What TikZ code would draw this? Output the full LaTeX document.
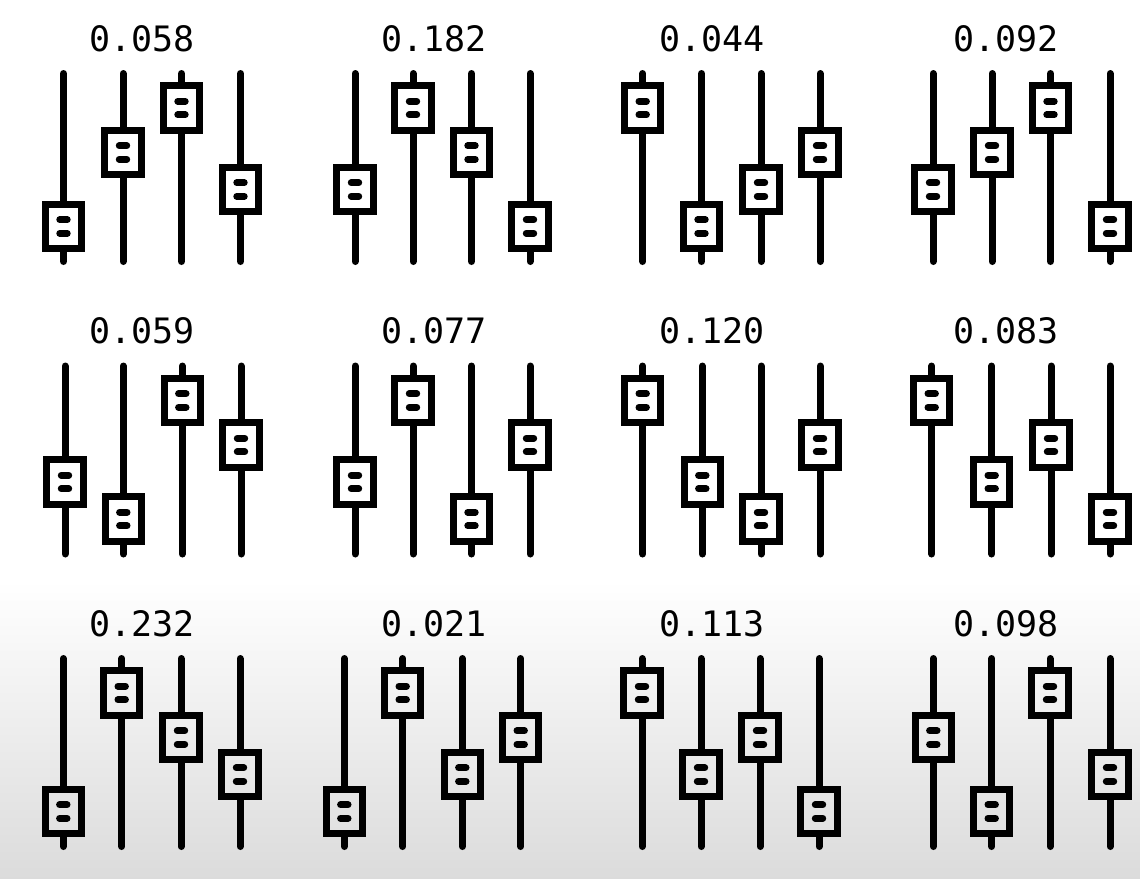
\documentclass[tikz,border=0pt]{standalone}
\usepackage{fontspec}
\newfontfamily\monofnt{DejaVu Sans Mono}
\definecolor{bgbot}{gray}{0.86}
\tikzset{
  rail/.style={line width=7pt, line cap=round, draw=black},
  knob/.style={rectangle, draw=black, line width=7pt, minimum width=36.5pt, minimum height=44.5pt, inner sep=0pt},
  pill/.style={line width=6.8pt, line cap=round, draw=black},
  lbl/.style={font=\monofnt\fontsize{35}{40}\selectfont, anchor=base, inner sep=0pt, text=black},
}
\begin{document}
\begin{tikzpicture}[x=1pt,y=-1pt]
\useasboundingbox (0,0) rectangle (1140,878);
\fill[white] (0,0) rectangle (1140,582);
\shade[top color=white,bottom color=bgbot] (0,580) rectangle (1140,878);
\foreach \n/\lab/\lx/\rt/\xs/\ls in {
 g11/0.058/141.7/70/{63.5,123,181.5,240.5}/{4,2,1,3},
 g12/0.182/434/70/{355,413,471.5,530}/{3,1,2,4},
 g13/0.044/711.7/70/{642.7,701.5,761,820}/{1,4,3,2},
 g14/0.092/1006/70/{933,992,1050.5,1110}/{3,2,1,4},
 g21/0.059/141.7/362.5/{65,123.3,182.3,241}/{3,4,1,2},
 g22/0.077/434/362.5/{355,413,471.5,530}/{3,1,4,2},
 g23/0.120/711.7/362.5/{642.7,702.3,761,820}/{1,3,4,2},
 g24/0.083/1006/362.5/{931.7,991.7,1051,1110}/{1,3,2,4},
 g31/0.232/141.7/655/{63.3,121.7,181,240}/{4,1,2,3},
 g32/0.021/434/655/{344.3,402.7,462.3,520.7}/{4,1,3,2},
 g33/0.113/711.7/655/{642,701,760,819}/{1,3,2,4},
 g34/0.098/1006/655/{933.3,991.7,1050,1110}/{2,4,1,3}}
{
  \node[lbl] (\n-l) at (\lx,\rt-19) {\lab};
  \foreach \xx [count=\i] in \xs {
    \pgfmathtruncatemacro\lv{{\ls}[\i-1]}
    \pgfmathsetmacro\ky{\rt+{38,82.5,119.5,156.5}[\lv-1]}
    \coordinate (\n-t\i) at (\xx,\rt+3.5);
    \coordinate (\n-b\i) at (\xx,\rt+191.5);
    \node[knob] (\n-k\i) at (\xx,\ky) {};
    \draw[rail] (\n-t\i) -- (\n-k\i.north);
    \draw[rail] (\n-k\i.south) -- (\n-b\i);
    \draw[pill] (\xx-3.8,\ky-6.8) -- (\xx+3.8,\ky-6.8);
    \draw[pill] (\xx-3.8,\ky+6.8) -- (\xx+3.8,\ky+6.8);
  }
}
\end{tikzpicture}
\end{document}
